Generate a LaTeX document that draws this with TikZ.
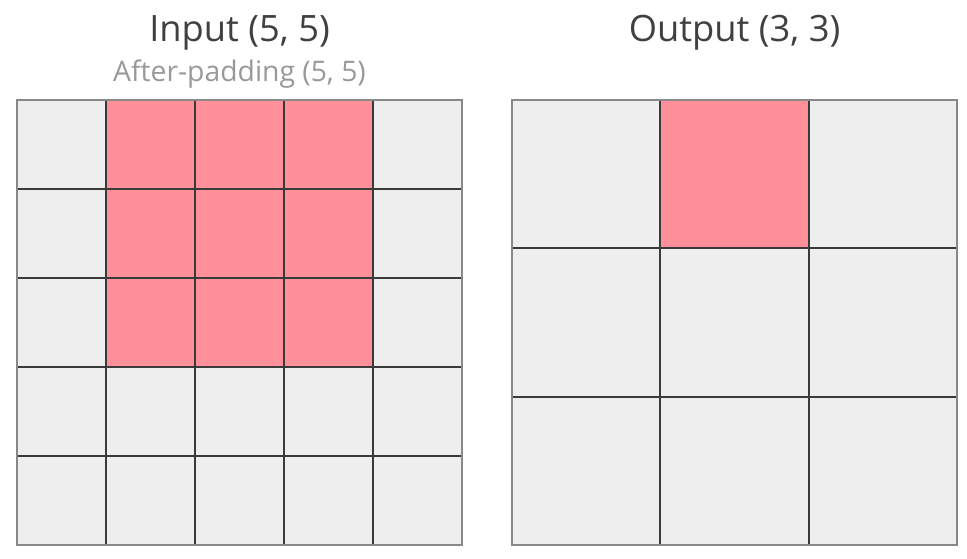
\documentclass[tikz,border=0pt]{standalone}
\usepackage{fontspec}
\setmainfont{Open Sans}
\definecolor{cellgray}{HTML}{EEEEEE}
\definecolor{cellpink}{HTML}{FF8F99}
\definecolor{innerline}{HTML}{3A3A3A}
\definecolor{outerline}{HTML}{888888}
\definecolor{titlecol}{HTML}{404040}
\definecolor{subcol}{HTML}{999999}
\tikzset{
  titletext/.style={anchor=base, inner sep=0pt, text=titlecol, font=\fontsize{36.3}{40}\selectfont},
  subtext/.style={anchor=base, inner sep=0pt, text=subcol, font=\fontsize{28.3}{32}\selectfont},
  gridbg/.style={fill=cellgray, draw=none},
  pinkcell/.style={fill=cellpink, draw=none},
  innergrid/.style={draw=innerline, line width=2pt},
  outerframe/.style={draw=outerline, line width=2.5pt},
}
\begin{document}
\begin{tikzpicture}[x=1pt, y=-1pt]
\useasboundingbox (0,0) rectangle (967,558);
% titles
\node[titletext] (tin) at (239.5,41) {Input (5, 5)};
\node[subtext] (tsub) at (239.5,81.5) {After-padding (5, 5)};
\node[titletext] (tout) at (734.5,41) {Output (3, 3)};
% ---- left grid (5x5), cell 89
\def\lx{17}\def\ly{100}\def\lc{89}
\fill[gridbg] (\lx,\ly) rectangle ++(445,445);
\foreach \c in {1,2,3}{
  \foreach \r in {0,1,2}{
    \fill[pinkcell] ({\lx+\c*\lc},{\ly+\r*\lc}) rectangle ++(\lc,\lc);
  }
}
\foreach \i in {1,2,3,4}{
  \draw[innergrid] ({\lx+\i*\lc},\ly) -- ({\lx+\i*\lc},{\ly+445});
  \draw[innergrid] (\lx,{\ly+\i*\lc}) -- ({\lx+445},{\ly+\i*\lc});
}
\draw[outerframe] (\lx,\ly) rectangle ++(445,445);
% ---- right grid (3x3), cell 148.333
\def\rx{512}\def\ry{100}\def\rc{148.333}
\fill[gridbg] (\rx,\ry) rectangle ++(445,445);
\fill[pinkcell] ({\rx+\rc},\ry) rectangle ++(\rc,\rc);
\foreach \i in {1,2}{
  \draw[innergrid] ({\rx+\i*\rc},\ry) -- ({\rx+\i*\rc},{\ry+445});
  \draw[innergrid] (\rx,{\ry+\i*\rc}) -- ({\rx+445},{\ry+\i*\rc});
}
\draw[outerframe] (\rx,\ry) rectangle ++(445,445);
\end{tikzpicture}
\end{document}
